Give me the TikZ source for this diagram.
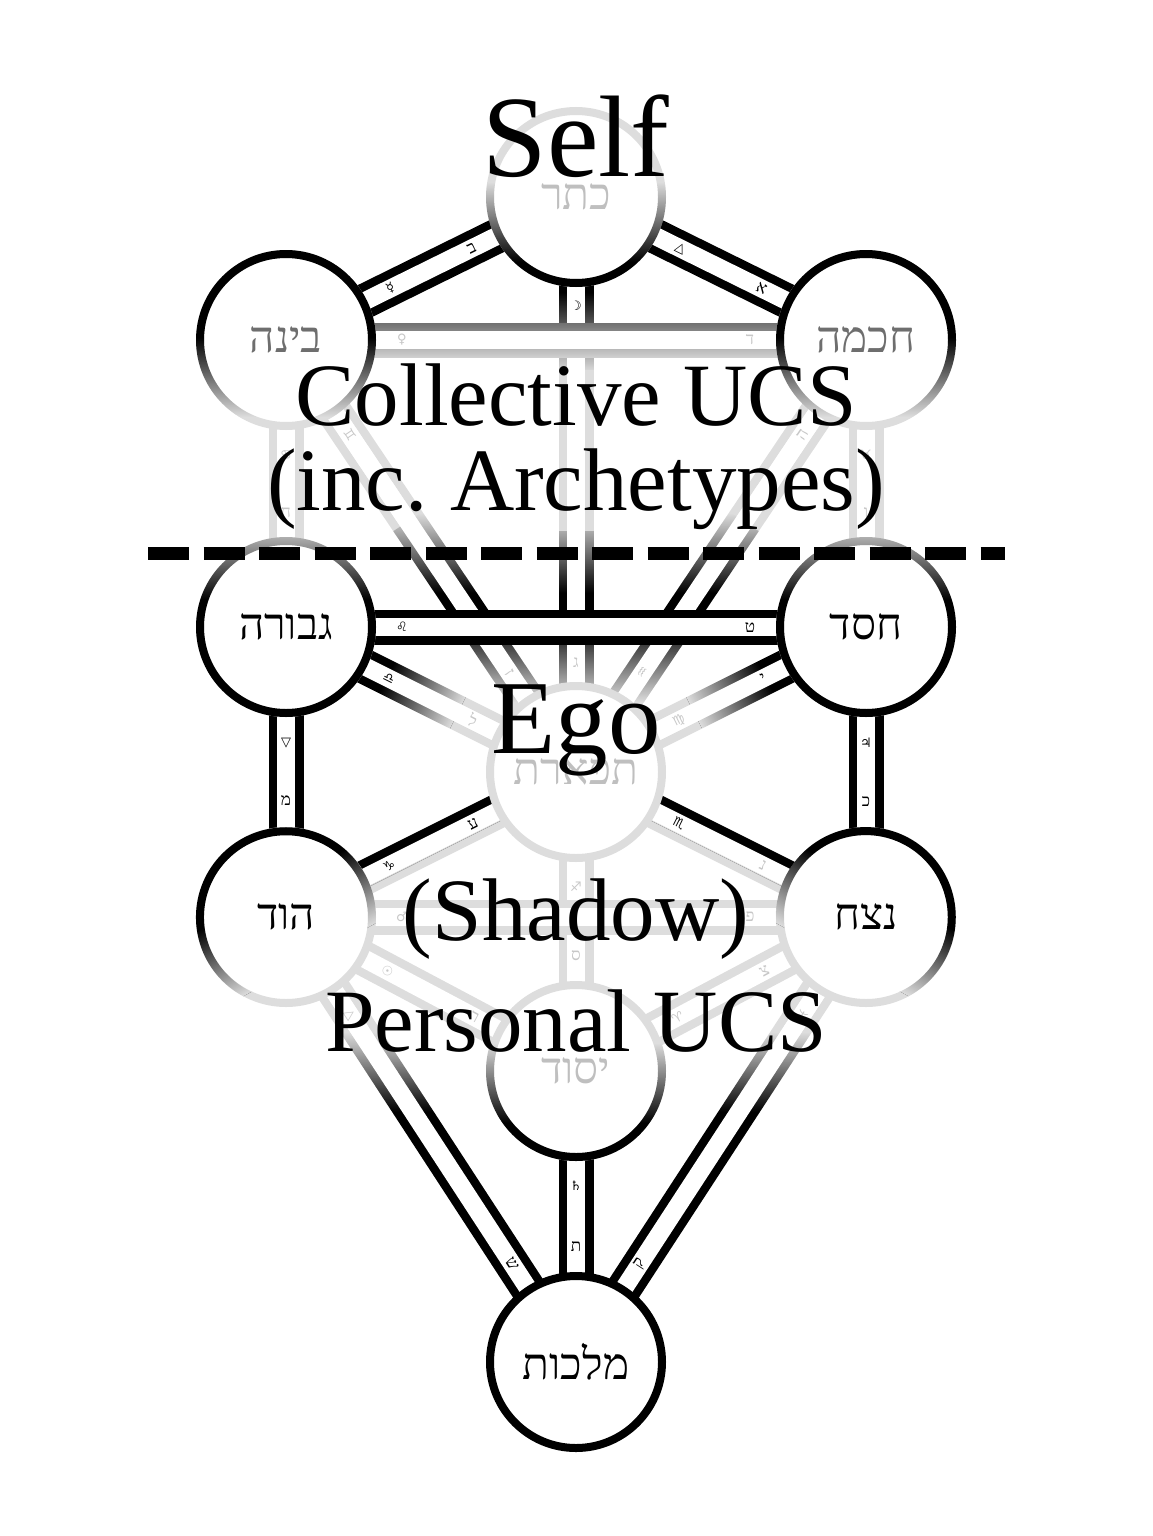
\documentclass[tikz,border=0pt]{standalone}
\usepackage{fontspec}
\setmainfont{Liberation Serif}
\usepackage{tikz}
\usetikzlibrary{calc, backgrounds, fadings}
\TeXXeTstate=1
\newfontfamily\hebf[Script=Hebrew]{Liberation Serif}
\newfontfamily\symf{DejaVu Sans}
\definecolor{fadegray}{RGB}{221,221,221}
\definecolor{midgray}{RGB}{110,110,110}

% opaque above the origin, soft step of 40pt, transparent below
\begin{tikzfadingfrompicture}[name=stepfade]
  \path (-2000pt,-2000pt) rectangle (2000pt,2000pt);
  \fill[transparent!0] (-2000pt,20pt) rectangle (2000pt,2000pt);
  \shade[top color=transparent!0, bottom color=transparent!100]
    (-2000pt,-40pt) rectangle (2000pt,40pt);
\end{tikzfadingfrompicture}
% same, with a short step
\begin{tikzfadingfrompicture}[name=sharpfade]
  \path (-2000pt,-2000pt) rectangle (2000pt,2000pt);
  \fill[transparent!0] (-2000pt,5pt) rectangle (2000pt,2000pt);
  \shade[top color=transparent!0, bottom color=transparent!100]
    (-2000pt,-10pt) rectangle (2000pt,10pt);
\end{tikzfadingfrompicture}

\begin{document}
\begin{tikzpicture}[
    x=1pt, y=-1pt,
    sephira/.style={circle, minimum size=172pt, inner sep=0pt, fill=white,
                    draw=fadegray, line width=8pt, text=black,
                    font=\hebf\fontsize{44}{44}\selectfont},
    rail/.style={line width=8.5pt, double=white, double distance=18pt},
    railb/.style={rail, draw=black},
    railg/.style={rail, draw=fadegray},
    darkband/.style={draw=black, line width=35pt},
    gap/.style={draw=white, line width=18pt},
    ring/.style={draw=black, line width=8pt},
    fadeat/.style n args={3}{path fading=stepfade, fit fading=false,
                fading transform={shift={(#1,#2)}, rotate=#3}},
    sharpat/.style n args={3}{path fading=sharpfade, fit fading=false,
                fading transform={shift={(#1,#2)}, rotate=#3}},
    sym/.style={inner sep=0pt, font=\symf\fontsize{13}{13}\selectfont},
    lett/.style={inner sep=0pt, font=\hebf\fontsize{17}{17}\selectfont},
    faint/.style={text=black!22},
    big/.style={anchor=base, inner sep=0pt, font=\fontsize{89}{89}\selectfont},
]
  \useasboundingbox (0,0) rectangle (1152,1536);

  % Sephirot
  \node[sephira, text=black!25] (keter)   at (576,197)  {\beginR כתר\endR};
  \node[sephira, text=midgray]  (binah)   at (286,340)  {\beginR בינה\endR};
  \node[sephira, text=midgray]  (chokmah) at (866,340)  {\beginR חכמה\endR};
  \node[sephira]                (gevurah) at (286,627)  {\beginR גבורה\endR};
  \node[sephira]                (chesed)  at (866,627)  {\beginR חסד\endR};
  \node[sephira, text=black!25] (tiferet) at (576,772)  {\beginR תפארת\endR};
  \node[sephira]                (hod)     at (286,917)  {\beginR הוד\endR};
  \node[sephira]                (netzach) at (866,917)  {\beginR נצח\endR};
  \node[sephira, text=black!25] (yesod)   at (576,1071) {\beginR יסוד\endR};
  \node[sephira, draw=black]    (malkuth) at (576,1362) {\beginR מלכות\endR};

  \begin{scope}[on background layer]
    % Keter to the supernals
    \draw[railb] (keter.center) -- (chokmah.center);
    \path (keter.center) -- node[sym, sloped, pos=0.36] {△}
      node[lett, sloped, pos=0.64] {א} (chokmah.center);
    \draw[railb] (keter.center) -- (binah.center);
    \path (keter.center) -- node[lett, sloped, pos=0.36] {ב}
      node[sym, sloped, pos=0.64] {☿} (binah.center);

    % middle pillar, upper part
    \draw[railg] (keter.center) -- (tiferet.center);
    \draw[darkband, fadeat={576}{332}{0}] (keter.center) -- ($(keter)!0.3!(tiferet)$);
    \draw[darkband, fadeat={576}{553}{180}] ($(keter)!0.58!(tiferet)$) -- ($(keter)!0.75!(tiferet)$);
    \draw[darkband, fadeat={576}{662}{0}] ($(keter)!0.75!(tiferet)$) -- ($(keter)!0.9!(tiferet)$);
    \draw[gap] (keter.center) -- (tiferet.center);
    \path (keter.center) -- node[sym, pos=0.19] {☽}
      node[lett, faint, pos=0.81] {ג} (tiferet.center);

    % supernals down to Tiferet
    \draw[railg] (chokmah.center) -- (tiferet.center);
    \draw[darkband, fadeat={576}{553}{180}] ($(chokmah)!0.42!(tiferet)$) -- ($(chokmah)!0.664!(tiferet)$);
    \draw[darkband, fadeat={576}{662}{0}] ($(chokmah)!0.664!(tiferet)$) -- ($(chokmah)!0.88!(tiferet)$);
    \draw[gap] (chokmah.center) -- (tiferet.center);
    \path (chokmah.center) -- node[lett, faint, sloped, pos=0.22] {ה}
      node[sym, faint, sloped, pos=0.77] {♒} (tiferet.center);
    \draw[railg] (binah.center) -- (tiferet.center);
    \draw[darkband, fadeat={576}{553}{180}] ($(binah)!0.42!(tiferet)$) -- ($(binah)!0.664!(tiferet)$);
    \draw[darkband, fadeat={576}{662}{0}] ($(binah)!0.664!(tiferet)$) -- ($(binah)!0.88!(tiferet)$);
    \draw[gap] (binah.center) -- (tiferet.center);
    \path (binah.center) -- node[sym, faint, sloped, pos=0.22] {♊}
      node[lett, faint, sloped, pos=0.77] {ז} (tiferet.center);

    % side pillars, upper part
    \draw[railg] (chokmah.center) -- (chesed.center);
    \path (chokmah.center) -- node[sym, faint, pos=0.4] {♉}
      node[lett, faint, pos=0.6] {ו} (chesed.center);
    \draw[railg] (binah.center) -- (gevurah.center);
    \path (binah.center) -- node[sym, faint, pos=0.4] {♋}
      node[lett, faint, pos=0.6] {ח} (gevurah.center);

    % Chesed and Gevurah to Tiferet
    \draw[railg] (chesed.center) -- (tiferet.center);
    \draw[darkband, fadeat={730}{695}{-63.4}] (chesed.center) -- (tiferet.center);
    \draw[gap] (chesed.center) -- (tiferet.center);
    \path (chesed.center) -- node[lett, sloped, pos=0.355] {י}
      node[sym, faint, sloped, pos=0.645] {♍} (tiferet.center);
    \draw[railg] (gevurah.center) -- (tiferet.center);
    \draw[darkband, fadeat={422}{695}{63.4}] (gevurah.center) -- (tiferet.center);
    \draw[gap] (gevurah.center) -- (tiferet.center);
    \path (gevurah.center) -- node[sym, sloped, pos=0.355] {♎}
      node[lett, faint, sloped, pos=0.645] {ל} (tiferet.center);

    % side pillars, lower part
    \draw[railb] (chesed.center) -- (netzach.center);
    \path (chesed.center) -- node[sym, pos=0.4] {♃}
      node[lett, pos=0.6] {כ} (netzach.center);
    \draw[railb] (gevurah.center) -- (hod.center);
    \path (gevurah.center) -- node[sym, pos=0.4] {▽}
      node[lett, pos=0.6] {מ} (hod.center);

    % Tiferet to Netzach and Hod: dark upper rail
    \draw[railg] (tiferet.center) -- (netzach.center);
    \draw[darkband, sharpat={721}{844.5}{-26.6}] (tiferet.center) -- (netzach.center);
    \draw[gap] (tiferet.center) -- (netzach.center);
    \path (tiferet.center) -- node[sym, sloped, pos=0.355] {♏}
      node[lett, faint, sloped, pos=0.645] {נ} (netzach.center);
    \draw[railg] (tiferet.center) -- (hod.center);
    \draw[darkband, sharpat={431}{844.5}{26.6}] (tiferet.center) -- (hod.center);
    \draw[gap] (tiferet.center) -- (hod.center);
    \path (tiferet.center) -- node[lett, sloped, pos=0.355] {ע}
      node[sym, sloped, pos=0.645] {♑} (hod.center);

    % down to Yesod
    \draw[railg] (tiferet.center) -- (yesod.center);
    \path (tiferet.center) -- node[sym, faint, pos=0.385] {♐}
      node[lett, faint, pos=0.615] {ס} (yesod.center);
    \draw[railg] (netzach.center) -- (yesod.center);
    \path (netzach.center) -- node[lett, faint, sloped, pos=0.35] {צ}
      node[sym, faint, sloped, pos=0.65] {♈} (yesod.center);
    \draw[railg] (hod.center) -- (yesod.center);
    \path (hod.center) -- node[sym, faint, sloped, pos=0.35] {☉}
      node[lett, faint, sloped, pos=0.65] {ר} (yesod.center);

    % down to Malkuth
    \draw[railg] (netzach.center) -- (malkuth.center);
    \draw[darkband, fadeat={576}{1072}{180}] (netzach.center) -- (malkuth.center);
    \draw[gap] (netzach.center) -- (malkuth.center);
    \path (netzach.center) -- node[sym, faint, sloped, pos=0.22] {♓}
      node[lett, sloped, pos=0.78] {ק} (malkuth.center);
    \draw[railg] (hod.center) -- (malkuth.center);
    \draw[darkband, fadeat={576}{1072}{180}] (hod.center) -- (malkuth.center);
    \draw[gap] (hod.center) -- (malkuth.center);
    \path (hod.center) -- node[sym, faint, sloped, pos=0.22] {△}
      node[lett, sloped, pos=0.78] {ש} (malkuth.center);
    \draw[railb] (yesod.center) -- (malkuth.center);
    \path (yesod.center) -- node[sym, pos=0.395] {♄}
      node[lett, pos=0.605] {ת} (malkuth.center);

    % horizontal paths go on top of the crossings
    \draw[railg] (binah.center) -- (chokmah.center);
    \draw[darkband, fadeat={576}{322}{0}] (binah.center) -- (chokmah.center);
    \draw[gap] (binah.center) -- (chokmah.center);
    \path (binah.center) -- node[sym, faint, pos=0.2] {♀}
      node[lett, faint, pos=0.8] {ד} (chokmah.center);
    \draw[railb] (gevurah.center) -- (chesed.center);
    \path (gevurah.center) -- node[sym, pos=0.2] {♌}
      node[lett, pos=0.8] {ט} (chesed.center);
    \draw[railg] (hod.center) -- (netzach.center);
    \path (hod.center) -- node[sym, faint, pos=0.2] {♂}
      node[lett, faint, pos=0.8] {פ} (netzach.center);
  \end{scope}

  % dark parts of the rings
  \draw[ring, fadeat={576}{222}{180}]   (keter.center)   circle[radius=86pt];
  \draw[ring, fadeat={576}{377}{0}]     (binah.center)   circle[radius=86pt];
  \draw[ring, fadeat={576}{377}{0}]     (chokmah.center) circle[radius=86pt];
  \draw[ring, fadeat={576}{560}{180}]   (gevurah.center) circle[radius=86pt];
  \draw[ring, fadeat={576}{560}{180}]   (chesed.center)  circle[radius=86pt];
  \draw[ring, fadeat={286}{927}{28.9}]  (hod.center)     circle[radius=86pt];
  \draw[ring, fadeat={866}{927}{-28.9}] (netzach.center) circle[radius=86pt];
  \draw[ring, fadeat={576}{1083}{180}]  (yesod.center)   circle[radius=86pt];

  % divider
  \coordinate (dashL) at (148,553);
  \coordinate (dashR) at (1005,553);
  \draw[line width=13pt, dash pattern=on 41pt off 14.5pt] (dashL) -- (dashR);

  % captions
  \node[big, font=\fontsize{116}{116}\selectfont] (self) at (576,176) {Self};
  \node[big] (collective) at (576,425) {Collective UCS};
  \node[big] (archetypes) at (576,510) {(inc.\ Archetypes)};
  \node[big, font=\fontsize{105}{105}\selectfont] (ego) at (576,753) {Ego};
  \node[big] (shadow) at (576,940) {(Shadow)};
  \node[big] (personal) at (576,1051) {Personal UCS};
\end{tikzpicture}
\end{document}
